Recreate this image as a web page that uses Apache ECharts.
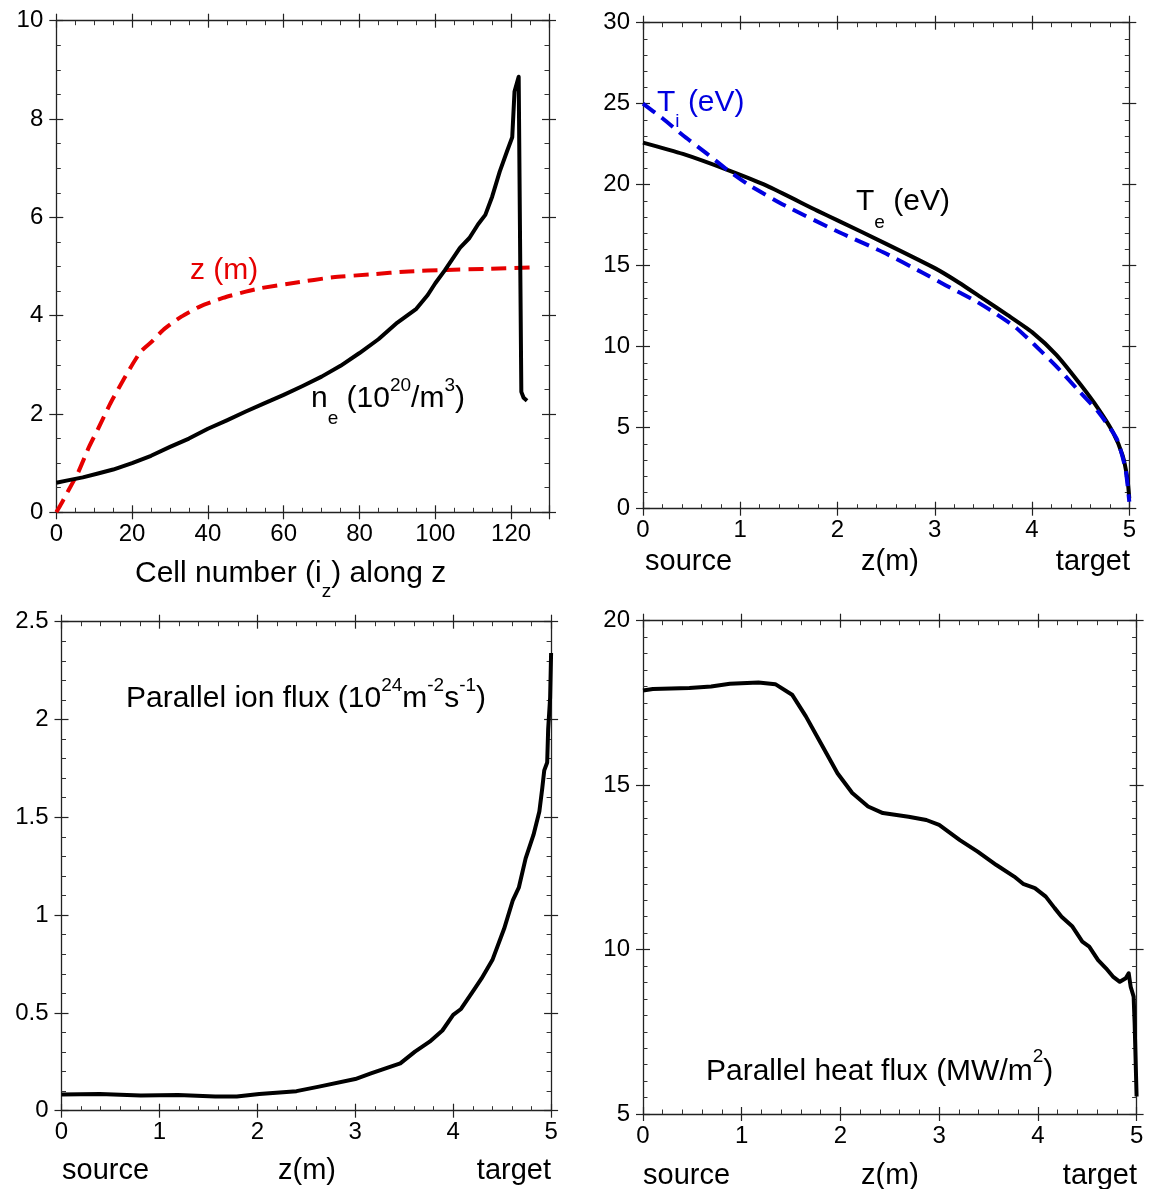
<!DOCTYPE html>
<html><head><meta charset="utf-8">
<script src="https://cdn.jsdelivr.net/npm/echarts@6/dist/echarts.min.js"></script>
<style>html,body{margin:0;padding:0;background:#fff}#c{width:1152px;height:1189px}</style>
</head><body><div id="c"></div>
<script>
const FONT = '"Liberation Sans", Arial, Helvetica, sans-serif';

// ---- Panel 1: cell number along z ----
const neCells = [0,3,7,11,15,20,25,30,35,40,45,50,55,60,65,70,75,80,85,90,95,98,100,102.5,104.5,106.5,109,111.3,113.2,115,117,119,120.3,120.9,122,122.7,123.3,124.2];
const neValues = [0.60,0.65,0.71,0.79,0.87,1.0,1.15,1.33,1.50,1.70,1.87,2.05,2.22,2.39,2.57,2.76,2.98,3.24,3.52,3.86,4.14,4.42,4.66,4.92,5.15,5.38,5.58,5.86,6.05,6.42,6.93,7.36,7.63,8.56,8.86,2.45,2.33,2.27];
const zCells = [0,1.5,3.3,5.7,8.7,11.1,14.1,16.5,19.4,22.3,25.3,28.2,33,38,44,50,54,63,73,83,93,103,113,125.5];
const zValues = [0,0.2,0.46,0.80,1.34,1.71,2.19,2.53,2.92,3.27,3.48,3.71,3.98,4.19,4.36,4.49,4.56,4.67,4.78,4.84,4.90,4.93,4.95,4.98];

// ---- Panel 2: temperatures vs z ----
const teZ = [0,0.41,0.86,1.27,1.79,2.0,2.5,3.0,3.25,3.5,3.75,4.0,4.25,4.5,4.68,4.83,4.93,4.98,5.0];
const teValues = [22.6,21.9,20.93,19.94,18.4,17.8,16.35,14.85,13.95,12.95,11.95,10.9,9.5,7.65,6.18,4.74,3.31,1.87,0.63];
const tiZ = [0,0.2,0.41,0.65,0.86,1.1,1.46,1.98,2.47,2.88,3.11,3.41,3.56,3.83,4.02,4.24,4.46,4.68,4.87,4.96,5.0];
const tiValues = [25.0,24.1,23.05,21.95,20.95,19.94,18.71,17.17,15.83,14.55,13.8,12.85,12.3,11.2,10.15,8.85,7.41,5.98,4.33,2.48,0.43];

// ---- Panel 3: parallel ion flux vs z ----
const ionZ = [0,0.39,0.81,1.19,1.57,1.79,2.02,2.4,2.63,3.0,3.16,3.46,3.61,3.76,3.89,4.0,4.08,4.21,4.29,4.4,4.52,4.61,4.67,4.74,4.82,4.88,4.91,4.93,4.96,4.97,4.99,5.0];
const ionValues = [0.083,0.085,0.078,0.08,0.072,0.073,0.085,0.10,0.123,0.162,0.191,0.242,0.302,0.353,0.41,0.49,0.52,0.617,0.676,0.77,0.93,1.077,1.14,1.29,1.41,1.53,1.65,1.74,1.78,1.95,2.11,2.34];

// ---- Panel 4: parallel heat flux vs z ----
const heatZ = [0,0.10,0.47,0.69,0.88,1.17,1.34,1.51,1.65,1.80,1.97,2.12,2.28,2.43,2.69,2.87,3.0,3.21,3.39,3.58,3.76,3.85,3.97,4.08,4.17,4.24,4.35,4.45,4.52,4.61,4.69,4.76,4.83,4.89,4.92,4.94,4.97,4.98,5.0];
const heatValues = [17.88,17.92,17.95,18.0,18.08,18.12,18.07,17.75,17.09,16.28,15.36,14.76,14.35,14.15,14.04,13.94,13.79,13.33,12.98,12.57,12.22,12.0,11.87,11.61,11.26,11.0,10.7,10.24,10.09,9.68,9.43,9.18,9.02,9.13,9.28,8.87,8.57,7.76,5.53];

const pair = (xs, ys) => xs.map((x, i) => [x, ys[i]]);

const AX = '#222';
function axesFor(gi, isX, min, max, interval, minorSplit, margin) {
  const positions = isX ? ['bottom', 'top'] : ['left', 'right'];
  const out = [];
  positions.forEach((pos, pi) => {
    out.push({
      type: 'value', gridIndex: gi, position: pos, min, max, interval,
      axisLine: { show: true, onZero: false, lineStyle: { color: AX, width: 1.3 } },
      axisTick: { show: true, inside: true, length: 7, lineStyle: { color: AX, width: 1.2 } },
      minorTick: { show: true, splitNumber: minorSplit, length: 4.5, lineStyle: { color: '#333', width: 1 } },
      axisLabel: { show: pi === 0, fontSize: 24, color: '#000', fontFamily: FONT, margin: margin },
      splitLine: { show: false }, minorSplitLine: { show: false }
    });
    out.push({
      type: 'value', gridIndex: gi, position: pos, min, max, interval,
      axisLine: { show: false, onZero: false },
      axisTick: { show: true, inside: false, length: 7, lineStyle: { color: AX, width: 1.2 } },
      minorTick: { show: false },
      axisLabel: { show: false },
      splitLine: { show: false }
    });
  });
  return out;
}

const grids = [
  { left: 56.3, right: 603, top: 20.7, bottom: 676.7 },
  { left: 643, right: 22.7, top: 22.7, bottom: 680.3 },
  { left: 61.5, right: 600.9, top: 621.7, bottom: 78.3 },
  { left: 643, right: 15.4, top: 620.7, bottom: 75 }
];

const xAxes = [].concat(
  axesFor(0, true, 0, 130, 20, 4, 10),
  axesFor(1, true, 0, 5, 1, 5, 10),
  axesFor(2, true, 0, 5, 1, 5, 10),
  axesFor(3, true, 0, 5, 1, 5, 10)
);
const yAxes = [].concat(
  axesFor(0, false, 0, 10, 2, 4, 13),
  axesFor(1, false, 0, 30, 5, 5, 13),
  axesFor(2, false, 0, 2.5, 0.5, 5, 13),
  axesFor(3, false, 5, 20, 5, 10, 13)
);

function lineSeries(gi, data, color, dashed, smooth) {
  return {
    type: 'line', xAxisIndex: gi * 4, yAxisIndex: gi * 4, data: data,
    showSymbol: false, symbol: 'none', animation: false, silent: true,
    smooth: smooth || false,
    lineStyle: { color: color, width: 4, type: dashed ? [15, 8] : 'solid', cap: 'butt', join: 'round' }
  };
}

const series = [
  lineSeries(0, pair(zCells, zValues), '#e60000', true, 0.2),
  lineSeries(0, pair(neCells, neValues), '#000', false, false),
  lineSeries(1, pair(teZ, teValues), '#000', false, 0.2),
  lineSeries(1, pair(tiZ, tiValues), '#0000e0', true, 0.2),
  lineSeries(2, pair(ionZ, ionValues), '#000', false, false),
  lineSeries(3, pair(heatZ, heatValues), '#000', false, false)
];

// ---- text annotations with sub/superscripts ----
const mctx = document.createElement('canvas').getContext('2d');
function tw(t, s) { mctx.font = s + 'px ' + FONT; return mctx.measureText(t).width; }
function label(x, y, parts, color, align) {
  let total = 0;
  parts.forEach(p => { total += tw(p.t, p.s) + (p.gap || 0); });
  let cx = align === 'right' ? x - total : x;
  const children = [];
  parts.forEach(p => {
    children.push({
      type: 'text', x: cx, y: y + (p.dy || 0), silent: true,
      style: { text: p.t, fill: color, fontSize: p.s, fontFamily: FONT, align: 'left', verticalAlign: 'middle' }
    });
    cx += tw(p.t, p.s) + (p.gap || 0);
  });
  return { type: 'group', children: children };
}
const B = 30, S = 19, L = 29;
const graphics = [
  label(190, 271, [{ t: 'z (m)', s: B }], '#e60000'),
  label(311, 399, [{ t: 'n', s: B }, { t: 'e', s: S, dy: 20 }, { t: ' (10', s: B }, { t: '20', s: S, dy: -13 }, { t: '/m', s: B }, { t: '3', s: S, dy: -13 }, { t: ')', s: B }], '#000'),
  label(135, 574, [{ t: 'Cell number (i', s: B }, { t: 'z', s: S, dy: 18 }, { t: ') along z', s: B }], '#000'),
  label(657, 103, [{ t: 'T', s: B }, { t: 'i', s: S, dy: 19 }, { t: ' (eV)', s: B }], '#0000e0'),
  label(856, 202, [{ t: 'T', s: B }, { t: 'e', s: S, dy: 21 }, { t: ' (eV)', s: B }], '#000'),
  label(126, 699, [{ t: 'Parallel ion flux (10', s: B }, { t: '24', s: S, dy: -13 }, { t: 'm', s: B }, { t: '-2', s: S, dy: -13 }, { t: 's', s: B }, { t: '-1', s: S, dy: -13 }, { t: ')', s: B }], '#000'),
  label(706, 1072, [{ t: 'Parallel heat flux (MW/m', s: B }, { t: '2', s: S, dy: -15 }, { t: ')', s: B }], '#000'),
  label(645, 562, [{ t: 'source', s: L }], '#000'),
  label(861, 562, [{ t: 'z(m)', s: L }], '#000'),
  label(1130, 562, [{ t: 'target', s: L }], '#000', 'right'),
  label(62, 1171, [{ t: 'source', s: L }], '#000'),
  label(278, 1171, [{ t: 'z(m)', s: L }], '#000'),
  label(551, 1171, [{ t: 'target', s: L }], '#000', 'right'),
  label(643, 1176, [{ t: 'source', s: L }], '#000'),
  label(861, 1176, [{ t: 'z(m)', s: L }], '#000'),
  label(1137, 1176, [{ t: 'target', s: L }], '#000', 'right')
];

const chart = echarts.init(document.getElementById('c'), null, { renderer: 'canvas' });
chart.setOption({
  backgroundColor: '#fff',
  animation: false,
  textStyle: { fontFamily: FONT },
  grid: grids,
  xAxis: xAxes,
  yAxis: yAxes,
  series: series,
  graphic: graphics
});
</script>
</body></html>
